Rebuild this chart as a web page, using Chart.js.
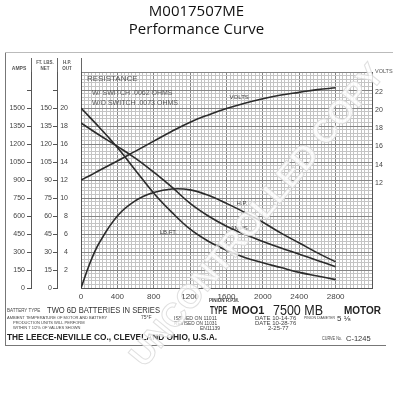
<!DOCTYPE html>
<html><head><meta charset="utf-8">
<script src="https://cdn.jsdelivr.net/npm/chart.js@4/dist/chart.umd.min.js"></script>
<style>html,body{margin:0;padding:0;background:#fff}canvas{display:block}</style>
</head><body>
<canvas id="c" width="393" height="400"></canvas>
<script>
const rpm    = [0,100,200,400,600,800,1000,1200,1400,1600,1800,2000,2200,2400,2600,2800];
const volts  = [12.3,12.8,13.35,14.4,15.5,16.6,17.7,18.7,19.5,20.2,20.8,21.3,21.7,22.0,22.3,22.5];
const amps   = [1375,1325,1275,1180,1080,965,840,705,600,515,447,388,333,282,230,178];
const torque = [150,142,134,117,98,79,63,49,39,31.5,25.5,21,17,13,10,7];
const hp     = [0,2.8,5.0,8.0,9.7,10.6,11.0,10.9,10.3,9.4,8.4,7.3,6.1,5.0,3.9,2.9];

const rpmLabels    = [0,400,800,1200,1600,2000,2400,2800];
const ampLabels    = [0,150,300,450,600,750,900,1050,1200,1350,1500];
const torqueLabels = [0,15,30,45,60,75,90,105,120,135,150];
const hpLabels     = [2,4,6,8,10,12,14,16,18,20];
const voltLabels   = [12,14,16,18,20,22];

const FONT = '"Liberation Sans", Arial, sans-serif';
const INK = '#2b2b2b';
const MINOR = '#c4c4c4', MAJOR = '#858585';

function pts(ys){ return rpm.map((r,i)=>({x:r,y:ys[i]})); }
function range(a,b,s){ const o=[]; for(let v=a; v<=b+1e-9; v+=s) o.push({value:Math.round(v*1000)/1000}); return o; }

function txt(ctx, s, x, y, size, o={}) {
  ctx.save();
  ctx.font = (o.bold?'bold ':'') + size + 'px ' + FONT;
  ctx.fillStyle = o.color || '#333';
  ctx.textAlign = o.align || 'left';
  ctx.textBaseline = 'middle';
  if (o.w) ctx.fillText(s, x, y, o.w); else ctx.fillText(s, x, y);
  ctx.restore();
}
function ln(ctx,x1,y1,x2,y2,col,w){ ctx.save(); ctx.strokeStyle=col||'#555'; ctx.lineWidth=w||1; ctx.beginPath(); ctx.moveTo(x1,y1); ctx.lineTo(x2,y2); ctx.stroke(); ctx.restore(); }

const sheet = {
  id:'sheet',
  beforeDraw(chart){ const c=chart.ctx; c.save(); c.fillStyle='#fff'; c.fillRect(0,0,chart.width,chart.height); c.restore(); },
  afterDraw(chart){
    const c=chart.ctx, a=chart.chartArea, X=chart.scales.x, A=chart.scales.amps, T=chart.scales.ftlbs, H=chart.scales.hp, V=chart.scales.volts;
    // document frame
    ln(c,5.5,52,5.5,346,'#777');
    ln(c,5,52.5,393,52.5,'#bbb');
    ln(c,5,345.5,386,345.5,'#777');
    // header of the left scales
    ln(c,A.right+0.5,58,A.right+0.5,a.top,'#666');
    ln(c,T.right+0.5,58,T.right+0.5,a.top,'#666');
    ln(c,a.left+0.5,58,a.left+0.5,a.top,'#666');
    txt(c,'AMPS',19,69,5,{align:'center',color:'#555',bold:true});
    txt(c,'FT. LBS.',45,63,4.5,{align:'center',color:'#555',bold:true});
    txt(c,'NET',45,69,4.5,{align:'center',color:'#555',bold:true});
    txt(c,'H.P.',67,63,4.5,{align:'center',color:'#555',bold:true});
    txt(c,'OUT',67,69,4.5,{align:'center',color:'#555',bold:true});
    txt(c,'VOLTS',a.right+3,71,5.5,{color:'#555'});
    // resistance note
    txt(c,'RESISTANCE',a.left+6,a.top+7,8,{color:'#555',w:57});
    txt(c,'W/ SWITCH .0062 OHMS',a.left+11,a.top+21,7,{color:'#555',w:100});
    txt(c,'W/O SWITCH .0073 OHMS',a.left+11,a.top+31,7,{color:'#555',w:101});
    // curve labels
    txt(c,'VOLTS',X.getPixelForValue(1740),V.getPixelForValue(21.4),6,{align:'center',color:'#444'});
    txt(c,'H.P.',X.getPixelForValue(1770),H.getPixelForValue(9.4),6,{align:'center',color:'#444'});
    txt(c,'AMPS',X.getPixelForValue(1740),A.getPixelForValue(500),6,{align:'center',color:'#444'});
    txt(c,'LB.FT.',X.getPixelForValue(960),T.getPixelForValue(46.5),6,{align:'center',color:'#444'});
    txt(c,'PINION R.P.M.',224,301,4.5,{align:'center',bold:true,color:'#444'});
    // bottom data block
    txt(c,'BATTERY TYPE',7,311,4.5,{color:'#444',w:36});
    txt(c,'TWO 6D BATTERIES IN SERIES',47,311,9,{color:'#333',w:113});
    txt(c,'TYPE',210,311,10,{bold:true,color:'#222',w:17});
    txt(c,'MOO1',232,311,11,{bold:true,color:'#222',w:36});
    txt(c,'7500 MB',273,311,14,{color:'#222',w:50});
    txt(c,'MOTOR',344,311,10,{bold:true,color:'#222',w:37});
    txt(c,'AMBIENT TEMPERATURE OF MOTOR AND BATTERY',7,318,4,{color:'#444',w:128});
    txt(c,'75°F',141,318,5,{color:'#444'});
    txt(c,'PRODUCTION UNITS WILL PERFORM',13,323,4,{color:'#444',w:86});
    txt(c,'WITHIN 7 1/2% OF VALUES SHOWN',13,328,4,{color:'#444',w:86});
    txt(c,'ISSUED ON 11011',174,318,5.5,{color:'#444',w:43});
    txt(c,'REVISED ON 11031',174,323,5.5,{color:'#444',w:43});
    txt(c,'EN11139',200,328,5.5,{color:'#444',w:20});
    txt(c,'DATE 10-14-76',255,318,6,{color:'#444',w:46});
    txt(c,'DATE 10-28-76',255,323,6,{color:'#444',w:46});
    txt(c,'2-25-77',268,328,6,{color:'#444',w:33});
    txt(c,'PINION DIAMETER',304,318,4,{color:'#444',w:31});
    txt(c,'5 ⅛',337,319,8,{color:'#333'});
    txt(c,'THE LEECE-NEVILLE CO., CLEVELAND OHIO, U.S.A.',7,338,9,{bold:true,color:'#222',w:210});
    txt(c,'CURVE No.',322,339,4.5,{color:'#444',w:20});
    txt(c,'C-1245',346,339,7.5,{color:'#333',w:32});
    // faint watermark
    c.save();
    c.translate(258,216);
    c.rotate(-50.6*Math.PI/180);
    c.font = 'bold 33px ' + FONT;
    c.textAlign='center'; c.textBaseline='middle';
    c.fillStyle='rgba(255,255,255,0.8)';
    c.fillText('UNCONTROLLED COPY',0,0,410);
    c.strokeStyle='rgba(215,215,215,0.8)'; c.lineWidth=1;
    c.strokeText('UNCONTROLLED COPY',0,0,410);
    c.restore();
  }
};

function curve(label, ys, axis){
  return {label, data:pts(ys), yAxisID:axis, borderColor:INK, borderWidth:1.6,
          pointRadius:0, fill:false, tension:0.4};
}

new Chart(document.getElementById('c'), {
  type:'line',
  data:{ datasets:[
    curve('Volts', volts, 'volts'),
    curve('Amps', amps, 'amps'),
    curve('Lb.Ft.', torque, 'ftlbs'),
    curve('H.P.', hp, 'hp')
  ]},
  options:{
    responsive:false, animation:false,
    layout:{padding:{left:0,right:0,top:0,bottom:0}},
    plugins:{
      legend:{display:false}, tooltip:{enabled:false},
      title:{display:true, text:['M0017507ME','Performance Curve'], color:'#111',
             font:{family:'"Open Sans", sans-serif', size:15, weight:'normal', lineHeight:1.2},
             padding:{top:3,bottom:33}}
    },
    scales:{
      x:{ type:'linear', min:0, max:3200,
          afterBuildTicks(s){ s.ticks = range(0,3200,40); },
          afterFit(s){ s.height = 112; },
          ticks:{ autoSkip:false, maxRotation:0, minRotation:0, padding:4, color:'#444',
                  font:{family:FONT,size:8},
                  callback:v => rpmLabels.includes(v) ? String(v) : '' },
          grid:{ drawTicks:false, color:ctx => (ctx.tick && ctx.tick.value%400===0) ? MAJOR : MINOR, lineWidth:1 },
          border:{display:true, color:'#555'} },
      amps:{ type:'linear', position:'left', weight:3, min:0, max:1800,
          afterBuildTicks(s){ s.ticks = range(0,1800,30); },
          afterFit(s){ s.width = 31; },
          ticks:{ autoSkip:false, padding:2, color:'#444', font:{family:FONT,size:7},
                  callback:v => ampLabels.includes(v) ? String(v) : '' },
          grid:{ drawOnChartArea:true, tickLength:4,
                 color:ctx => (ctx.tick && ctx.tick.value%150===0) ? MAJOR : MINOR,
                 tickColor:ctx => (ctx.tick && ctx.tick.value%150===0 && ctx.tick.value<1800) ? '#555' : 'rgba(0,0,0,0)' },
          border:{display:true, color:'#555'} },
      ftlbs:{ type:'linear', position:'left', weight:2, min:0, max:180,
          afterBuildTicks(s){ s.ticks = range(0,180,15); },
          afterFit(s){ s.width = 26; },
          ticks:{ autoSkip:false, padding:1, color:'#444', font:{family:FONT,size:7},
                  callback:v => torqueLabels.includes(v) ? String(v) : '' },
          grid:{ drawOnChartArea:false, tickLength:4,
                 tickColor:ctx => (ctx.tick && ctx.tick.value<180) ? '#555' : 'rgba(0,0,0,0)' },
          border:{display:true, color:'#555'} },
      hp:{ type:'linear', position:'left', weight:1, min:0, max:24,
          afterBuildTicks(s){ s.ticks = range(0,24,2); },
          afterFit(s){ s.width = 24; },
          ticks:{ autoSkip:false, padding:13, color:'#444', font:{family:FONT,size:7},
                  callback:v => hpLabels.includes(v) ? String(v) : '' },
          grid:{ drawOnChartArea:false, drawTicks:false },
          border:{display:true, color:'#555'} },
      volts:{ type:'linear', position:'right', min:0.35, max:24.25,
          afterBuildTicks(s){ s.ticks = voltLabels.map(v=>({value:v})); },
          afterFit(s){ s.width = 21; },
          ticks:{ autoSkip:false, padding:3, color:'#444', font:{family:FONT,size:7},
                  callback:v => String(v) },
          grid:{ drawOnChartArea:false, drawTicks:false },
          border:{display:true, color:'#555'} }
    }
  },
  plugins:[sheet]
});
</script>
</body></html>
